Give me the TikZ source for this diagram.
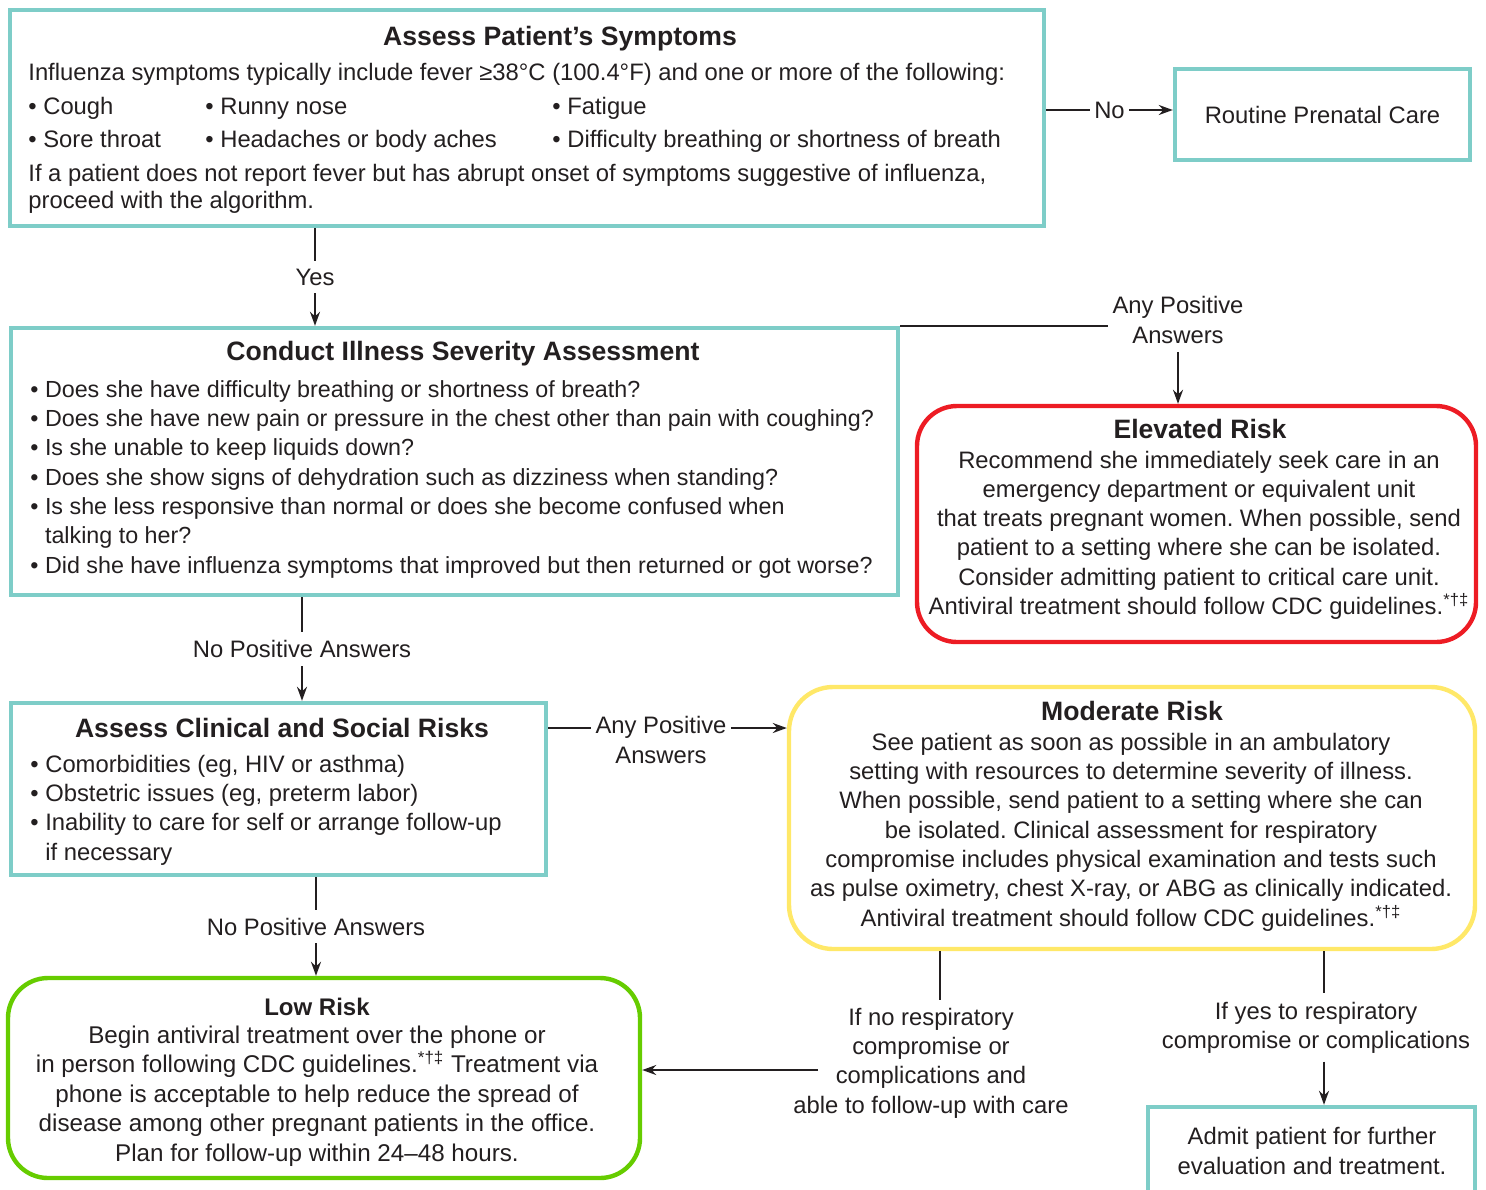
\documentclass[tikz,border=0pt]{standalone}
\usepackage{fontspec}
\setmainfont{Liberation Sans}
\usetikzlibrary{arrows.meta, fit}
\frenchspacing

\definecolor{tealline}{RGB}{126,205,200}
\definecolor{redline}{RGB}{237,28,36}
\definecolor{yellowline}{RGB}{255,232,104}
\definecolor{greenline}{RGB}{102,204,0}
\definecolor{inkgray}{RGB}{35,31,32}

\begin{document}
\begin{tikzpicture}[
    x=0.5pt, y=-0.5pt,
    every node/.style={text=inkgray, font=\fontsize{11.9}{14.65}\selectfont},
    tealbox/.style={draw=tealline, line width=2.2pt, inner sep=0pt},
    riskbox/.style={line width=2.2pt, inner sep=0pt, rounded corners=20pt},
    head/.style={font=\fontsize{13.3}{16}\selectfont\bfseries, inner sep=0pt},
    body/.style={align=left, inner sep=0pt},
    lbl/.style={fill=white, inner xsep=2pt, inner ysep=4pt, align=center},
    arr/.style={draw=inkgray, line width=1pt, -{Stealth[length=7pt, width=5pt]}},
    link/.style={draw=inkgray, line width=1pt}
]
\useasboundingbox (0,0) rectangle (1486,1189);
\clip (0,0) rectangle (1486,1189);

% Boxes
\node[tealbox, fit={(10,10) (1044,226)}] (symptoms) {};
\node[tealbox, minimum width=147.5pt, minimum height=45.5pt] (routine) at (1322.5,114.5) {Routine Prenatal Care};
\node[tealbox, fit={(11,328) (898,595)}] (severity) {};
\node[riskbox, draw=redline, fit={(917,406) (1476,642)}] (elevated) {};
\node[tealbox, fit={(11,703) (546,875)}] (clinical) {};
\node[riskbox, draw=yellowline, rounded corners=22pt, fit={(789,687) (1475,949)}] (moderate) {};
\node[riskbox, draw=greenline, fit={(8,978) (640,1178)}] (low) {};
\node[tealbox, fit={(1148,1107) (1475,1230)}] (admit) {};

% Texts (multi-line nodes sit on their last baseline)
\node[head, anchor=base] (symT) at (560,45) {Assess Patient’s Symptoms};
\node[body, anchor=base west] (symI) at (28,80) {Influenza symptoms typically include fever ≥38°C (100.4°F) and one or more of the following:};
\node[body, anchor=base west] (symA) at (28,147) {• Cough\\[1.4pt]• Sore throat};
\node[body, anchor=base west] (symB) at (205,147) {• Runny nose\\[1.4pt]• Headaches or body aches};
\node[body, anchor=base west] (symC) at (552,147) {• Fatigue\\[1.4pt]• Difficulty breathing or shortness of breath};
\node[body, anchor=base west] (symD) at (28,208) {If a patient does not report fever but has abrupt onset of symptoms suggestive of influenza,\\[-1.2pt]proceed with the algorithm.};

\node[head, anchor=base] (sevT) at (463,360) {Conduct Illness Severity Assessment};
\node[body, font=\fontsize{11.65}{14.65}\selectfont, anchor=base west] (sevL) at (30,573) {• Does she have difficulty breathing or shortness of breath?\\
• Does she have new pain or pressure in the chest other than pain with coughing?\\
• Is she unable to keep liquids down?\\
• Does she show signs of dehydration such as dizziness when standing?\\
• Is she less responsive than normal or does she become confused when\\
\phantom{• }talking to her?\\
• Did she have influenza symptoms that improved but then returned or got worse?};

\node[head, anchor=base] (eleT) at (1200,438) {Elevated Risk};
\node[body, align=center, anchor=base] (eleL) at (1199,614.5) {Recommend she immediately seek care in an\\
emergency department or equivalent unit\\
that treats pregnant women. When possible, send\\
patient to a setting where she can be isolated.\\
Consider admitting patient to critical care unit.\\
Antiviral treatment should follow CDC guidelines.\textsuperscript{*†‡}};

\node[head, anchor=base] (clinT) at (282,737) {Assess Clinical and Social Risks};
\node[body, anchor=base west] (clinL) at (30,860) {• Comorbidities (eg, HIV or asthma)\\
• Obstetric issues (eg, preterm labor)\\
• Inability to care for self or arrange follow-up\\
\phantom{• }if necessary};

\node[head, anchor=base] (modT) at (1132,720) {Moderate Risk};
\node[body, align=center, anchor=base] (modL) at (1131,926) {See patient as soon as possible in an ambulatory\\
setting with resources to determine severity of illness.\\
When possible, send patient to a setting where she can\\
be isolated. Clinical assessment for respiratory\\
compromise includes physical examination and tests such\\
as pulse oximetry, chest X-ray, or ABG as clinically indicated.\\
Antiviral treatment should follow CDC guidelines.\textsuperscript{*†‡}};

\node[head, font=\fontsize{12}{14.65}\selectfont\bfseries, anchor=base] (lowT) at (317,1015) {Low Risk};
\node[body, font=\fontsize{12.1}{14.75}\selectfont, align=center, anchor=base] (lowL) at (317,1161) {Begin antiviral treatment over the phone or\\
in person following CDC guidelines.\textsuperscript{*†‡} Treatment via\\
phone is acceptable to help reduce the spread of\\
disease among other pregnant patients in the office.\\
Plan for follow-up within 24–48 hours.};

\node[body, align=center, anchor=base] (admitL) at (1312,1174) {Admit patient for further\\evaluation and treatment.};

% Labels
\node[lbl] (eleQ) at (1178,320) {Any Positive\\Answers};
\node[lbl] (clinQ) at (661,740) {Any Positive\\Answers};
\node[lbl] (noRes) at (931,1063) {If no respiratory\\compromise or\\complications and\\able to follow-up with care};
\node[lbl] (yesRes) at (1316,1027.5) {If yes to respiratory\\compromise or complications};

% Arrows
\coordinate (noY) at (0,110);
\coordinate (yesX) at (315,0);
\coordinate (np1) at (302,0);
\coordinate (ap2) at (0,728);
\coordinate (np2) at (316,0);
\coordinate (nrX) at (940,0);
\coordinate (nrA) at (818,1070);
\coordinate (yrX) at (1324,0);

\draw[arr] (noY -| symptoms.east) -- node[lbl]{No} (noY -| routine.west);
\draw[arr] (yesX |- symptoms.south) -- node[lbl]{Yes} (yesX |- severity.north);
\draw[link] (severity.north east) -- (severity.north east -| eleQ.west);
\draw[arr] (eleQ.south) -- (eleQ.south |- elevated.north);
\draw[arr] (np1 |- severity.south) -- node[lbl]{No Positive Answers} (np1 |- clinical.north);
\draw[link] (ap2 -| clinical.east) -- (ap2 -| clinQ.west);
\draw[arr] (ap2 -| clinQ.east) -- (ap2 -| moderate.west);
\draw[arr] (np2 |- clinical.south) -- node[lbl]{No Positive Answers} (np2 |- low.north);
\draw[link] (nrX |- moderate.south) -- (nrX |- noRes.north);
\draw[arr] (nrA) -- (nrA -| low.east);
\draw[link] (yrX |- moderate.south) -- (yrX |- yesRes.north);
\draw[arr] (yrX |- yesRes.south) -- (yrX |- admit.north);

\end{tikzpicture}
\end{document}
